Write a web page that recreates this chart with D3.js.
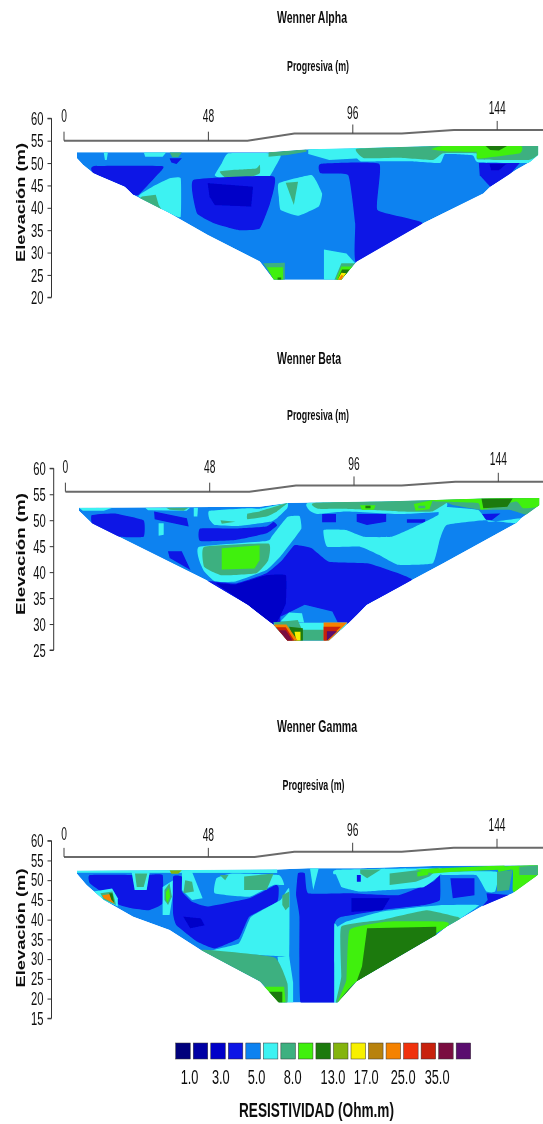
<!DOCTYPE html>
<html><head><meta charset="utf-8">
<style>html,body{margin:0;padding:0;background:#fff}svg{display:block}text{font-family:"Liberation Sans",Arial,sans-serif;fill:#111}</style>
<script src="https://cdn.jsdelivr.net/npm/d3@7"></script></head><body>
<script>
// ---- colour classes (resistivity) ----
const classColors = ["#00007c","#0000a4","#0000c8","#0a12e6","#0a82f0","#3ef2f2","#3cb080","#3ff00e","#1e7a08","#84b40e","#f8f000","#b8820a","#f58200","#f03010","#c82008","#7a1040","#5a0a6e"];
const legendLabels = ["1.0","3.0","5.0","8.0","13.0","17.0","25.0","35.0"];
const legendLabelClass = [0.32,2.1,4.14,6.2,8.5,10.4,12.5,14.44];
const xTicks = [0,48,96,144];

// ---- surface elevation [progresiva, elevacion] ----
const alphaTopo = [[0,55],[61,55],[76.6,56.6],[112.3,56.6],[129.6,57.4],[159.3,57.4]];
const betaTopo  = [[0,55.5],[61.2,55.5],[76.7,56.7],[111.9,56.7],[129.7,57.4],[158.9,57.4]];
const gammaTopo = [[0,55.9],[63.4,55.9],[76.6,57.2],[112.3,57.2],[129.6,58.2],[159.3,58.2]];

// ---- section outlines ----
const alphaOutline = [[4.3,52.4],[4.3,51.1],[6.3,49.6],[9.8,47.7],[20.2,44.7],[23,42.9],[35.1,38.8],[47.8,33.9],[65.1,28],[69.7,23.9],[92.2,23.9],[97.3,28],[119.2,36.5],[139.4,43.2],[141.7,44.7],[150.3,48.5],[155,50.3],[157.6,51.8],[157.6,53.8],[122.7,53.8],[97.3,53.3],[81.2,53.1],[68,52.4]];
const betaOutline = [[4.5,52.4],[4.5,51.8],[8.8,49.4],[46.8,38.5],[60.6,33.7],[68.7,30.1],[73.8,26.8],[87.7,26.8],[94,30.1],[100.3,33.7],[115.3,38.5],[125.7,41.7],[149.9,49.4],[151.6,50.4],[157.6,52.9],[157.6,54.3],[138.4,54.2],[123.4,53.9],[105,53.6],[81.9,53.4],[73.8,53.3],[64.6,52.6]];
const gammaOutline = [[4.3,52.4],[4.3,51.6],[7.5,48.8],[13.2,45],[23,40.7],[35.1,37.4],[45.5,32.3],[65.1,24.3],[71.4,19],[91,19],[97.3,24.3],[123.8,36.1],[127.3,38.2],[138.8,43.3],[149.2,46.7],[157.6,51.3],[157.6,53.8],[122.7,53.6],[98.5,53],[81.2,53],[70.9,52.7]];

// ---- contour regions: [class, [[progresiva, elevacion], ...]] painted in order ----
const alphaRegions = [
 [3,[[9.8,49.3],[32.8,49.3],[30.5,47],[24.8,42.9],[23,42.9],[20.2,44.7],[9.8,47.7]]],
 [5,[[13.2,52.4],[14.6,52.4],[14.2,50.7],[13.6,50.7]]],
 [5,[[26.5,52.4],[34,52.4],[32.8,51.4],[27,51.4]]],
 [6,[[35.1,52.4],[39.2,52.4],[38,51.3],[36,51.3]]],
 [3,[[35.1,51.1],[39.2,51.1],[37.4,49.8],[35.7,50.1]]],
 [5,[[24.8,42.5],[29.4,44.7],[35.1,46.6],[38.8,46.6],[38.8,38],[35.1,38.8]]],
 [6,[[25.9,42.5],[30.5,42.9],[31.5,40.6],[33.5,38.5],[25,42]]],
 [5,[[54.7,52.2],[71,52.2],[72,51.4],[69.7,48.5],[67.4,46.6],[52.4,46.6],[50.1,47.3],[52.4,49.9]]],
 [6,[[51.8,48.1],[57,48.5],[63.9,48.8],[65.1,49.6],[65.1,47.7],[61.6,46.8],[53.6,46.8]]],
 [6,[[68,52.4],[80.6,53.1],[80.6,52.5],[74.3,51.8],[68,51.4]]],
 [3,[[43,46.2],[69.7,47],[68.5,41],[65.1,35.4],[58.2,35],[50.1,36.5],[44.2,38.8]]],
 [2,[[47.8,45.5],[62.8,44.7],[62.2,40.3],[50.1,40.6],[48.4,42.5]]],
 [5,[[71.4,45.5],[82.4,47.3],[85.8,43.2],[84.7,40.3],[77.8,38.2],[72,39.5],[71.4,42.5]]],
 [6,[[73.7,45.6],[77.8,45.8],[76.4,40.6]]],
 [5,[[81.2,53.2],[97.3,53.4],[98.5,51.1],[88.2,50.7],[81.2,52]]],
 [3,[[85.3,49.8],[104.8,49.8],[104.2,39.5],[119.2,36.5],[97.3,27.6],[96.8,36.5],[94.5,47.3],[85.3,47.7]]],
 [5,[[97.3,53.4],[157.6,53.9],[157.6,51],[155,50],[137.6,50.2],[135.9,51.7],[126.7,52],[125,50],[114.6,50.4],[105.4,50.4],[98.5,50.4]]],
 [6,[[97.3,53.2],[122.7,53.8],[157.6,53.9],[157.6,51.8],[154.4,50.7],[137.6,50.8],[137,52.2],[126,52.2],[122.7,50.7],[111.2,51.2],[99.7,51.1]]],
 [7,[[122.1,53.1],[126.7,53.9],[151.5,53.9],[151.5,52.2],[137.6,51],[137,52.5],[127.3,52.6]]],
 [8,[[140,53.9],[147.5,53.9],[144.6,52.8],[141.7,52.9]]],
 [3,[[137.9,50],[151.5,50],[148,47.3],[141.7,44.7],[138.2,47.3]]],
 [2,[[141.5,49.8],[147,49.8],[144.5,48.4],[142,48.4]]],
 [6,[[66.2,27.6],[73.4,27.7],[73.4,23.9],[69.7,23.9]]],
 [7,[[67.5,26.7],[72.8,26.7],[72.8,23.9],[69.7,23.9]]],
 [8,[[71,24.4],[72.2,24.4],[72.2,23.9],[71,23.9]]],
 [5,[[86.4,30.7],[93.9,29.8],[96.8,27.6],[89.9,23.9],[86.4,23.9]]],
 [6,[[89.9,23.9],[92.2,27.6],[97,27.6],[92.2,23.9]]],
 [7,[[90.4,23.9],[92.2,26.9],[96,26.9],[92.2,23.9]]],
 [8,[[90.9,23.9],[92.4,26.2],[95,26.2],[92.4,23.9]]],
 [10,[[91,23.9],[92.2,25.5],[93.8,25.4],[92.2,23.9]]],
 [12,[[91.2,23.9],[92.2,25],[92.9,24.8],[92.2,23.9]]]
];
const betaRegions = [
 [5,[[4.5,52.4],[15.7,52.4],[12.8,51.8],[5.8,51.8]]],
 [5,[[26.5,52.4],[41.5,52.4],[40.3,51.8],[27.5,51.9]]],
 [6,[[33.5,52.4],[41,52.4],[39.3,51.8],[34.7,52]]],
 [3,[[8.8,51],[16.3,51.3],[26,50],[26,46.8],[17.4,46.8],[11.6,48.2],[8.8,49.4]]],
 [3,[[29.5,51.7],[40.4,50.4],[41,48.8],[33.5,49.7],[29.7,50.2]]],
 [5,[[31,49.4],[32.7,49.4],[32.7,47.2],[31,47]]],
 [5,[[42.7,52.4],[44.1,52.4],[43.9,50.7],[42.7,50.7]]],
 [3,[[44.8,48.4],[56.6,48.4],[66.9,48.8],[69.2,49.7],[70.4,49],[66.9,47.5],[56.6,46.2],[44.8,46]]],
 [5,[[47.9,51.8],[61.2,52.3],[64.6,52.2],[73.8,53.3],[73.8,52.3],[70.4,50.4],[68.1,49.7],[57.7,48.9],[49.7,49.1],[47.9,50.2]]],
 [6,[[60.6,51.3],[64.6,51.7],[73.8,53.3],[70.4,51.7],[66.9,50.7],[60.6,50.2]]],
 [6,[[51.6,50],[56.6,49.7],[52,49.3]]],
 [5,[[44.5,44.9],[66.9,46],[68.6,46.8],[73.8,50.6],[77.9,50.8],[78.5,48.4],[75,45.6],[71.5,43],[66.9,40.4],[56.6,38.2],[49.7,38.2],[46.2,40.1],[44.5,42.3]]],
 [6,[[46.2,44.9],[67.5,45.5],[67.5,42.3],[63.5,39.8],[52,39.4],[46.2,41]]],
 [7,[[52,44.6],[64.6,45.2],[64.6,42.3],[62.9,40.7],[52,40.5]]],
 [3,[[76.2,45.2],[81.9,44.6],[87.7,42],[100.3,41.7],[106.1,40.7],[115.3,38.5],[100.3,33.7],[94,30.1],[68.7,30.1],[60.6,33.7],[47.3,38.2],[56.6,37.8],[66.9,39.8],[72.1,42.3]]],
 [2,[[50.2,37.8],[56.6,37.6],[66.9,39.4],[73.3,39.4],[73.3,34],[70.4,30.4],[68.7,30.1],[60.6,33.7]]],
 [3,[[34.1,44],[38.7,44],[41.6,40.4],[34.7,42.7]]],
 [4,[[71.5,31.4],[79.6,33.7],[88.8,32.4],[90.6,30.3],[71.5,30.3]]],
 [5,[[69.2,30.3],[93.8,30.3],[92.3,28.8],[70.4,28.8]]],
 [5,[[71.5,30.5],[74.4,32.2],[78.7,32.1],[79.4,30.3]]],
 [6,[[79,28.9],[85.9,28.9],[85.9,26.8],[79,26.8]]],
 [6,[[69.2,30.3],[77.3,30.8],[79,28.5],[79,26.8],[73.8,26.8]]],
 [8,[[74.4,29.5],[79,29.2],[79,26.8],[76.2,26.8]]],
 [10,[[76.2,28.5],[78.2,28.5],[78.2,26.8],[76.8,26.8]]],
 [12,[[69.2,29.9],[73.5,29.9],[77.3,26.8],[73.8,26.8]]],
 [14,[[70,29.4],[73.3,29.4],[76.2,26.8],[73.8,26.8]]],
 [15,[[71,28.8],[73.3,28.8],[75.6,26.8],[73.8,26.8]]],
 [12,[[85.9,30.3],[93.8,30.3],[87.7,26.8],[85.9,26.8]]],
 [14,[[85.9,29.5],[91.6,29.5],[86.8,26.8],[85.9,26.8]]],
 [16,[[87,28.6],[90.4,28.6],[87,26.8]]],
 [3,[[85.4,51.2],[90,51.2],[90,49.6],[85.4,49.6]]],
 [3,[[96.9,51.2],[106.7,51.2],[106.7,49.7],[100.3,49.1],[96.9,49.7]]],
 [3,[[113.6,50.2],[119.7,50.2],[119.7,49.5],[113.6,49.5]]],
 [3,[[138.4,51.2],[144.7,51.3],[141.8,50],[138.9,50.2]]],
 [5,[[124.5,52.6],[137.2,52],[140.7,49.7],[151.6,50.4],[149.9,49.4],[139.5,50],[126.8,49.1],[124.5,46.2],[122.2,41.7],[110.7,41.4],[104.4,43.3],[98,44.9],[87.1,44.9],[85.9,48.1],[93.4,48.1],[99.2,46.8],[108.4,46.8],[116.5,48.8],[124,51]]],
 [5,[[81.3,53.4],[125.7,53.7],[125.7,51.7],[110.7,51.2],[93.4,51.7],[83.7,51.2],[81.3,51.8]]],
 [6,[[84,53.4],[157.6,54.4],[157.6,52.9],[153.9,51],[147.6,52],[138.4,52],[129.1,52.9],[126.8,53.3],[122.1,51.7],[110.7,51.7],[100.3,52],[91,52.2],[84,52.2]]],
 [7,[[98,52.9],[103.2,52.9],[102.6,52],[98.6,52]]],
 [8,[[99.8,52.8],[101.5,52.8],[101.5,52.3],[99.8,52.3]]],
 [7,[[115.9,53.1],[122.2,53.9],[121.1,52.1],[116.5,51.8]]],
 [6,[[117.4,52.8],[119.7,52.8],[119.7,52.3],[117.4,52.3]]],
 [7,[[122.2,54],[157.6,54.4],[157.6,52.6],[152.2,52.3],[149.9,53.6],[138.4,52],[137.2,53.3],[123.4,53.6]]],
 [8,[[138.4,54.2],[148.8,54.2],[147,52.6],[139,52.3]]]
];
const gammaRegions = [
 [5,[[4.3,52.5],[70.9,52.8],[70.9,51.8],[4.3,51.9]]],
 [3,[[8.6,51.3],[23,51.3],[24.8,49.6],[28.2,51.3],[32.8,51.3],[32.8,44.1],[28.2,42.4],[22.5,42.9],[18.4,43.7],[13.2,46.6],[8.6,49.2]]],
 [5,[[9.8,47.1],[16,47.9],[17.9,45.4],[17.9,43.3],[13.2,45]]],
 [6,[[12.1,46.7],[16.1,47.1],[16.9,45],[17.3,43.7],[13.2,45.1]]],
 [12,[[12.7,46.2],[15.4,46.5],[16.1,45],[16.7,44.1],[13.2,45.4]]],
 [8,[[15,46.7],[16.1,46.7],[16.7,44.3],[15.8,45]]],
 [5,[[22.5,52],[28.5,52],[27.5,47.5],[23.5,47.5]]],
 [6,[[23.6,51.7],[27.7,51.7],[26.5,48.3],[24.2,48.3]]],
 [5,[[32.8,48.3],[36.3,50],[36.3,46.7],[35.1,41.2],[32.8,41.2]]],
 [6,[[33.4,47.5],[35.1,49.2],[35.9,45.8],[34.6,43.7],[33.4,45]]],
 [7,[[33.9,47],[34.9,48],[35.3,45.8],[34.4,44.3],[33.9,45.3]]],
 [5,[[39.2,52.1],[42.6,52.1],[46.1,45.4],[42.6,45],[39.2,47.5]]],
 [6,[[40.3,50],[42.6,49.6],[43.2,47.1],[39.7,46.7]]],
 [9,[[35.1,52.5],[39.2,52.5],[38,51.6],[35.7,51.6]]],
 [3,[[36.3,50.9],[39.2,50.9],[39.2,47.1],[42.6,44.5],[47.8,43.3],[61.6,45.4],[70.4,48.8],[71.4,48],[70.9,44.5],[61.6,40.7],[58.2,35.3],[50.1,32.7],[44.4,34.4],[37.4,38.6],[36.3,41.5]]],
 [2,[[39.7,40.7],[45.5,40.3],[46.7,38.6],[42,37.8]]],
 [5,[[50.7,50.5],[55.9,51.7],[71.4,51.3],[73.2,48.8],[69.7,48.8],[61.6,45.8],[50.1,46.7]]],
 [6,[[59.9,50.9],[69.7,51.7],[67.4,47.5],[59.9,47.5]]],
 [6,[[51.8,51.3],[54.7,51.3],[53.6,50]]],
 [5,[[72,45],[74.9,47.9],[74.9,30.6],[73.2,30.6],[48.4,31.9],[58.2,34],[62.2,40.7]]],
 [5,[[71,30.6],[74.9,30.6],[76.2,24],[76.2,19],[73,19]]],
 [6,[[45.5,32.3],[70,30.4],[74.3,23.9],[74.3,19],[71.4,19],[65.1,24.3]]],
 [7,[[66.2,23],[73.2,23],[73.7,19],[70.9,19]]],
 [8,[[68,21.7],[72.6,21.7],[72.6,19],[71,19]]],
 [6,[[72.6,46.2],[74.9,47.1],[74.9,43.3],[73.7,42.4],[72.6,43.7]]],
 [3,[[77.8,51.7],[80.1,51.7],[81.2,46.7],[95,46.7],[111.2,46.2],[122.7,49.6],[125,51.3],[125,45],[119.8,43.7],[105.4,42.4],[92.2,40.7],[89.9,38.6],[89.9,19],[78.7,19],[78.3,40.7],[77.2,46.2]]],
 [2,[[95.6,45.4],[108.3,45.4],[105.9,42.4],[95.6,42]]],
 [5,[[81.8,53],[84.7,53],[82.9,47.5]]],
 [5,[[90.4,52.6],[125,53],[125,51.3],[119.8,48.3],[107.7,47.5],[98.5,47.1],[92.2,48.3],[90.4,50.5]]],
 [4,[[84.7,51.5],[90.4,51.5],[92.2,48.3],[95,46.8],[83.5,46.8]]],
 [3,[[97.4,51.3],[98.7,51.3],[98.7,49.6],[97.4,49.6]]],
 [6,[[98.5,52.7],[105.4,52.7],[100.8,50.5],[98.5,51.7]]],
 [6,[[108.3,51.7],[125,53.2],[121.5,50.9],[117,49.6],[108.3,48.8]]],
 [7,[[117.5,52.1],[121.5,52.7],[121,51.3],[117.5,50.9]]],
 [5,[[91,38.2],[93.9,39.5],[105.4,42],[119.8,43.3],[126.1,43.7],[138,43.7],[131.9,40.3],[127.3,38.2],[97.3,24.3],[91,19],[89.9,19],[89.9,38.6]]],
 [6,[[92.2,38.2],[105.4,39.9],[120.4,42.4],[130.8,40.7],[131.9,39.9],[127.3,38.2],[97.3,24.3],[91,19],[90.4,19],[92.2,25.5]]],
 [7,[[95,37.4],[107.7,39.5],[126.1,39.5],[127.3,38.2],[97.3,24.3],[91,19],[93.9,24.7]]],
 [8,[[100.8,37.8],[123.8,38.2],[123.8,36.1],[97.3,24.3],[99.1,28.1]]],
 [8,[[91,19],[94.4,22.2],[97.3,24.3],[92.7,19]]],
 [3,[[128.5,50.5],[136.5,50.5],[136.5,46.2],[129.3,45.4]]],
 [5,[[125,52.1],[144,52.1],[143.4,47.1],[140.5,47.1],[137,51.3],[126,51.3]]],
 [3,[[140.5,46.7],[149.2,46.2],[139.9,42.4],[138,42.4],[140.9,45]]],
 [6,[[144,52.1],[149.2,52.6],[148,47.5],[144,47.1]]],
 [7,[[144.6,53.4],[157.6,53.8],[157.6,51.3],[150.4,46.7],[149.2,47.5],[149.2,52.6],[144.6,52.1]]],
 [6,[[151.4,53.4],[157.6,53.8],[157.6,51.3],[151.4,51.3]]],
 [7,[[116.9,52.7],[146.5,53.8],[146.5,52.7],[128.5,52.1],[122.7,51.7]]]
];

// ---- layout ----
const panels = [
 {title:"Wenner Alpha", titleX:277, titleW:70, titleY:18, subX:287, subY:67, x0:64, x1:497.2, yTop:118.3, yBot:297.3, yMin:20, axisX:51.5,
  ticks:d3.range(20,61,5), topo:alphaTopo, outline:alphaOutline, regions:alphaRegions, labelY:[128,128,125,120], yLabelC:202.5, yLabelL:119, tickFont:19},
 {title:"Wenner Beta", titleX:277, titleW:64, titleY:359, subX:287, subY:416, x0:65.4, x1:498.3, yTop:468.3, yBot:650, yMin:25, axisX:53.7,
  ticks:d3.range(25,61,5), topo:betaTopo, outline:betaOutline, regions:betaRegions, labelY:[479,479,476,471], yLabelC:554, yLabelL:122, tickFont:19},
 {title:"Wenner Gamma", titleX:277, titleW:80, titleY:727, subX:282.5, subY:786, x0:64, x1:497, yTop:840.7, yBot:1018.3, yMin:15, axisX:51.5,
  ticks:d3.range(15,61,5), topo:gammaTopo, outline:gammaOutline, regions:gammaRegions, labelY:[846,847,842,837], yLabelC:928, yLabelL:119, tickFont:18}
];

const svg = d3.select("body").append("svg").attr("width",543).attr("height",1124);
const defs = svg.append("defs");
defs.append("filter").attr("id","soft").attr("filterUnits","userSpaceOnUse")
  .attr("x",0).attr("y",0).attr("width",543).attr("height",1124)
  .append("feGaussianBlur").attr("stdDeviation",0.65);
const root = svg.append("g").attr("filter","url(#soft)");

function narrow(sel,w){return sel.attr("textLength",w).attr("lengthAdjust","spacingAndGlyphs");}

panels.forEach((p,i)=>{
  const x = d3.scaleLinear().domain([0,144]).range([p.x0,p.x1]);
  const y = d3.scaleLinear().domain([p.yMin,60]).range([p.yBot,p.yTop]);
  const line = d3.line().x(d=>x(d[0])).y(d=>y(d[1]));
  const poly = d3.line().x(d=>x(d[0])).y(d=>y(d[1])).curve(d3.curveLinearClosed);
  const smooth = d3.line().x(d=>x(d[0])).y(d=>y(d[1])).curve(d3.curveCardinalClosed.tension(0.65));
  const g = root.append("g");

  narrow(g.append("text").attr("x",p.titleX).attr("y",p.titleY+5).attr("font-size",16).attr("font-weight","bold").text(p.title),p.titleW);
  narrow(g.append("text").attr("x",p.subX).attr("y",p.subY+4).attr("font-size",14).attr("font-weight","bold").text("Progresiva (m)"),62);

  // y axis
  const ax = g.append("g").attr("transform",`translate(${p.axisX},0)`)
    .call(d3.axisLeft(y).tickValues(p.ticks).tickSize(4).tickPadding(4).tickFormat(d3.format("d")));
  ax.selectAll("path,line").attr("stroke","#333").attr("stroke-width",1);
  ax.select(".domain").attr("d",`M-4,${y(p.yMin)}H0V${y(60)}H-4`);
  narrow(ax.selectAll("text").attr("font-size",p.tickFont).attr("font-family",null).attr("fill","#111"),12.5);
  narrow(g.append("text").attr("transform",`translate(24.5,${p.yLabelC}) rotate(-90)`).attr("text-anchor","middle")
    .attr("font-size",12.5).attr("font-weight","bold").text("Elevación (m)"),p.yLabelL);

  // surface
  const topoAt = m => d3.scaleLinear().domain(p.topo.map(d=>d[0])).range(p.topo.map(d=>d[1]))(m);
  g.append("path").attr("d",line(p.topo)).attr("fill","none").attr("stroke","#6a6a6a").attr("stroke-width",2);
  g.selectAll(".xt").data(xTicks).join("line").attr("class","xt")
    .attr("x1",d=>x(d)).attr("x2",d=>x(d)).attr("y1",d=>y(topoAt(d))).attr("y2",d=>y(topoAt(d))-9)
    .attr("stroke","#444");
  const xl = g.selectAll(".xl").data(xTicks).join("text").attr("class","xl")
    .attr("x",d=>x(d)).attr("y",(d,j)=>p.labelY[j]-6).attr("text-anchor","middle").attr("font-size",19)
    .text(d=>d);
  xl.each(function(d){narrow(d3.select(this),String(d).length*5.7);});

  // section
  const id = "clip"+i;
  defs.append("clipPath").attr("id",id).append("path").attr("d",poly(p.outline));
  const sec = g.append("g").attr("clip-path",`url(#${id})`);
  sec.append("path").attr("d",poly(p.outline)).attr("fill",classColors[4]);
  sec.selectAll(".r").data(p.regions).join("path").attr("class","r")
    .attr("d",d=>(d[1].length>=6?smooth:poly)(d[1])).attr("fill",d=>classColors[d[0]]);
});

// legend
const lx = d3.scaleLinear().domain([0,classColors.length]).range([175.2,473.2]);
const lg = root.append("g");
lg.selectAll("rect").data(classColors).join("rect")
  .attr("x",(d,i)=>lx(i)+.5).attr("y",1043).attr("width",(lx(1)-lx(0))-3).attr("height",16)
  .attr("fill",d=>d).attr("stroke","#333").attr("stroke-width",.5);
lg.selectAll(".ll").data(legendLabels).join("text").attr("class","ll")
  .attr("transform",(d,i)=>`translate(${lx(legendLabelClass[i]+.5)},1084) scale(0.64,1)`)
  .attr("text-anchor","middle").attr("font-size",20)
  .text(d=>d);
narrow(lg.append("text").attr("x",239).attr("y",1117).attr("font-size",20).attr("font-weight","bold").text("RESISTIVIDAD (Ohm.m)"),155);
</script></body></html>
